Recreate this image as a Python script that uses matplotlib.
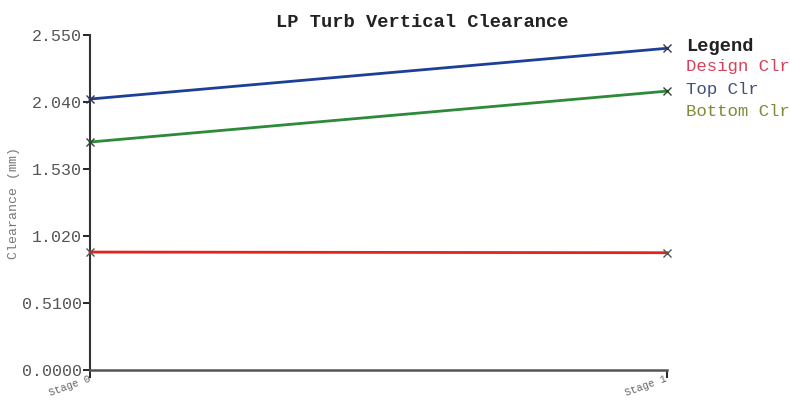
import matplotlib
matplotlib.use('Agg')
import matplotlib.pyplot as plt

# ── Data ───────────────────────────────────────────────────────────────
stages = ['Stage 0', 'Stage 1']
design_clr = [0.898, 0.893]
top_clr = [2.062, 2.448]
bottom_clr = [1.735, 2.122]
y_ticks = [0.0, 0.51, 1.02, 1.53, 2.04, 2.55]
y_tick_labels = ['0.0000', '0.5100', '1.020', '1.530', '2.040', '2.550']

plt.rcParams['font.family'] = ['Liberation Mono', 'DejaVu Sans Mono']

fig = plt.figure(figsize=(7.9, 4.01), dpi=100)
ax = fig.add_axes([0.114, 0.077, 0.730, 0.836])

x = range(len(stages))
ax.plot(x, design_clr, '-', color='#e3231c', lw=2.0, marker='x', ms=6,
        mec='#555555', clip_on=False, zorder=3)
ax.plot(x, top_clr, '-', color='#1c3f98', lw=2.0, marker='x', ms=6,
        mec='#333355', clip_on=False, zorder=3)
ax.plot(x, bottom_clr, '-', color='#2c8a38', lw=2.0, marker='x', ms=6,
        mec='#334433', clip_on=False, zorder=3)

ax.set_xlim(0, 1)
ax.set_ylim(0, 2.55)
ax.set_xticks(list(x))
ax.set_xticklabels(stages, rotation=20, ha='right', va='center',
                   rotation_mode='anchor', fontsize=7.5, color='#666666')
ax.set_yticks(y_ticks)
ax.set_yticklabels(y_tick_labels, fontsize=12, color='#555555')
ax.tick_params(axis='y', direction='out', length=5, width=1.2, pad=1)
ax.tick_params(axis='x', direction='out', length=6, width=1.2, pad=0)

for s in ['top', 'right']:
    ax.spines[s].set_visible(False)
ax.spines['left'].set_linewidth(1.5)
ax.spines['left'].set_color('#333333')
ax.spines['bottom'].set_linewidth(1.8)
ax.spines['bottom'].set_color('#555555')

ax.set_ylabel('Clearance (mm)', fontsize=9.5, color='#777777')
ax.yaxis.set_label_coords(-0.121, 0.5)

# Title sits right of the axes centre in the source
fig.text(0.535, 0.945, 'LP Turb Vertical Clearance', fontsize=13.5,
         fontweight='bold', color='#222222', ha='center', va='center')

# Legend block on the right (runs off the figure edge as in the source)
fig.text(0.868, 0.885, 'Legend', fontsize=13.5, fontweight='bold', color='#222222',
         va='center')
fig.text(0.868, 0.833, 'Design Clr', fontsize=12.5, color='#d8405a', va='center')
fig.text(0.868, 0.778, 'Top Clr', fontsize=12.5, color='#40507a', va='center')
fig.text(0.868, 0.723, 'Bottom Clr', fontsize=12.5, color='#7d8c3a', va='center')

fig.savefig('out.png', dpi=100, facecolor='white')
